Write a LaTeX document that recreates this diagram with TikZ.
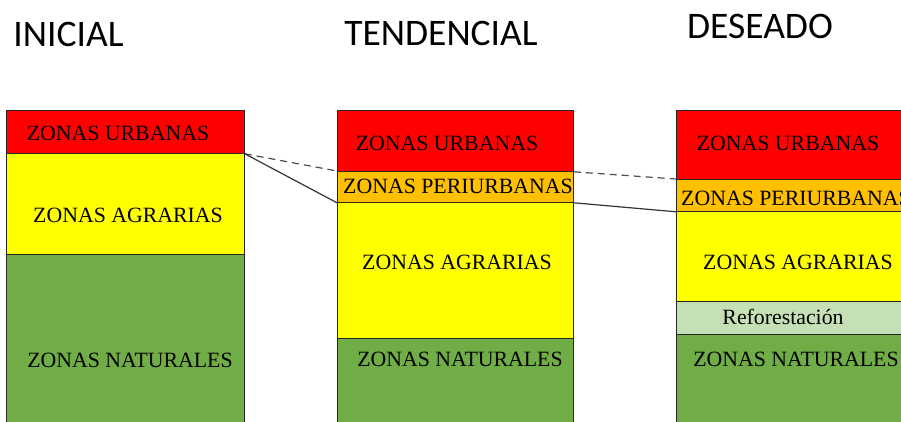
\documentclass[tikz,border=0pt]{standalone}
\usepackage{fontspec}
\setmainfont{Liberation Serif}
\newfontfamily\titlefont{Carlito}
\definecolor{rojo}{HTML}{FF0000}
\definecolor{amarillo}{HTML}{FFFF00}
\definecolor{naranja}{HTML}{FFC000}
\definecolor{verde}{HTML}{70AD47}
\definecolor{verdeclaro}{HTML}{C5E0B4}
\begin{document}
\begin{tikzpicture}[
    x=1pt, y=-1pt,
    zona/.style={draw=black!85, line width=0.8pt, rectangle, anchor=north west, inner sep=0pt, minimum width=236pt},
    texto/.style={inner sep=0pt, font=\fontsize{21.8pt}{24pt}\selectfont},
    titulo/.style={inner sep=0pt, font=\titlefont\fontsize{37.5pt}{40pt}\selectfont},
    limite/.style={draw=black!80, line width=1.2pt},
    tendencia/.style={draw=black!70, line width=1.2pt, dash pattern=on 7pt off 5pt}
]
\useasboundingbox (0,0) rectangle (901,422);
\clip (0,0) rectangle (901,422);

% Titles
\node[titulo] (tIni) at (68.5,34.5) {INICIAL};
\node[titulo] (tTen) at (441,33) {TENDENCIAL};
\node[titulo] (tDes) at (760,26) {DESEADO};

% Initial situation
\node[zona, fill=rojo, minimum width=238pt, minimum height=43pt] (urbIni) at (6,110) {};
\node[zona, fill=amarillo, minimum width=238pt, minimum height=101pt] (agrIni) at (6,153) {};
\node[zona, fill=verde, minimum width=238pt, minimum height=212pt] (natIni) at (6,254) {};
\node[texto] (urbIniTxt) at (118,133) {ZONAS URBANAS};
\node[texto] (agrIniTxt) at (128,215) {ZONAS AGRARIAS};
\node[texto] (natIniTxt) at (130,360) {ZONAS NATURALES};

% Trend scenario
\node[zona, fill=rojo, minimum height=61pt] (urbTen) at (337,110) {};
\node[zona, fill=naranja, minimum height=31pt] (periTen) at (337,171) {};
\node[zona, fill=amarillo, minimum height=136pt] (agrTen) at (337,202) {};
\node[zona, fill=verde, minimum height=150pt] (natTen) at (337,338) {};
\node[texto] (urbTenTxt) at (447,143) {ZONAS URBANAS};
\node[texto] (periTenTxt) at (458,186) {ZONAS PERIURBANAS};
\node[texto] (agrTenTxt) at (457,262) {ZONAS AGRARIAS};
\node[texto] (natTenTxt) at (460,359) {ZONAS NATURALES};

% Desired scenario
\node[zona, fill=rojo, minimum height=69pt] (urbDes) at (676,110) {};
\node[zona, fill=naranja, minimum height=32pt] (periDes) at (676,179) {};
\node[zona, fill=amarillo, minimum height=90pt] (agrDes) at (676,211) {};
\node[zona, fill=verdeclaro, minimum height=33pt] (refDes) at (676,301) {};
\node[zona, fill=verde, minimum height=154pt] (natDes) at (676,334) {};
\node[texto] (urbDesTxt) at (788,143) {ZONAS URBANAS};
\node[texto] (periDesTxt) at (796,198) {ZONAS PERIURBANAS};
\node[texto] (agrDesTxt) at (798,262) {ZONAS AGRARIAS};
\node[texto] (refDesTxt) at (783,317) {Reforestación};
\node[texto] (natDesTxt) at (796,359) {ZONAS NATURALES};

% Growth lines between scenarios
\draw[tendencia] (urbIni.south east) -- (periTen.north west);
\draw[limite] (urbIni.south east) -- (periTen.south west);
\draw[tendencia] (urbTen.south east) -- (periDes.north west);
\draw[limite] (periTen.south east) -- (periDes.south west);
\end{tikzpicture}
\end{document}
